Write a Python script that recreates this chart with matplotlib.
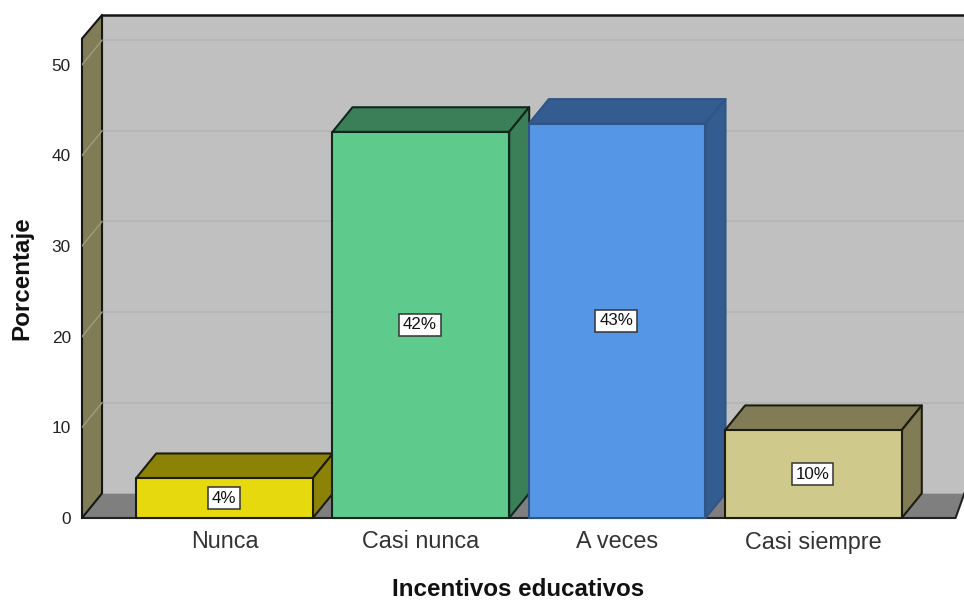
import matplotlib
matplotlib.use("Agg")
import matplotlib.pyplot as plt
from matplotlib.patches import Polygon

plt.rcParams["font.family"] = ["Liberation Sans", "DejaVu Sans"]

# ---------------------------------------------------------------------------
# Datos
# ---------------------------------------------------------------------------
categorias = ["Nunca", "Casi nunca", "A veces", "Casi siempre"]
porcentajes = [4.4, 42.6, 43.5, 9.7]
etiquetas = ["4%", "42%", "43%", "10%"]
ticks_y = [0, 10, 20, 30, 40, 50]

colores_frente = ["#e6d90e", "#5ecb8c", "#5596e6", "#cfc98c"]
colores_lado = ["#8c8205", "#3a7f58", "#335c91", "#817c55"]
colores_borde = ["#1c1c10", "#10281c", "#2f5586", "#1c1c10"]

# Profundidad del falso 3D, en unidades de los ejes
DX = 0.102
DY = 2.72
ANCHO = 0.9
X_MIN, X_MAX = -0.726, 3.767
Y_MAX = 55.5
Y_PARED = 52.9

fig = plt.figure(figsize=(9.64, 6.01), dpi=100)
ax = fig.add_axes([82 / 964, 83 / 601, 882 / 964, 503 / 601])
ax.set_xlim(X_MIN, X_MAX)
ax.set_ylim(0, Y_MAX)
for s in ax.spines.values():
    s.set_visible(False)


def poligono(puntos, color, borde="#161616", lw=1.5, z=1):
    ax.add_patch(Polygon(puntos, closed=True, facecolor=color, edgecolor=borde,
                         linewidth=lw, joinstyle="round", zorder=z,
                         clip_on=False))


# Pared del fondo, pared izquierda y suelo
poligono([(X_MIN + DX, DY), (X_MAX + 0.02, DY), (X_MAX + 0.02, Y_MAX),
          (X_MIN + DX, Y_MAX)], "#c0c0c0", borde="none", z=1)
poligono([(X_MIN, 0), (X_MAX - 0.043, 0), (X_MAX + 0.002, DY), (X_MIN + DX, DY)],
         "#7f7f7f", borde="none", z=2)
ax.plot([X_MIN + DX, X_MAX + 0.02], [Y_MAX, Y_MAX], color="#161616", lw=1.8,
        zorder=3, clip_on=False)
ax.plot([X_MIN, X_MAX - 0.043, X_MAX + 0.002], [0, 0, DY], color="#222222", lw=1.5,
        zorder=3, clip_on=False)
poligono([(X_MIN, 0), (X_MIN + DX, DY), (X_MIN + DX, Y_MAX), (X_MIN, Y_PARED)],
         "#807c55", z=3)

# Rejilla
for t in ticks_y[1:]:
    ax.plot([X_MIN + DX, X_MAX + 0.02], [t + DY, t + DY], color="#b4b4b4", lw=1.3,
            zorder=1.5)
    ax.plot([X_MIN, X_MIN + DX], [t, t + DY], color="#9c9a80", lw=1.1, zorder=3.5)

# Barras
for i, (v, cf, cl, cb) in enumerate(zip(porcentajes, colores_frente,
                                        colores_lado, colores_borde)):
    x0, x1 = i - ANCHO / 2, i + ANCHO / 2
    poligono([(x0, v), (x1, v), (x1 + DX, v + DY), (x0 + DX, v + DY)], cl, cb,
             z=4 + i)
    poligono([(x1, 0), (x1 + DX, DY), (x1 + DX, v + DY), (x1, v)], cl, cb, z=4 + i)
    poligono([(x0, 0), (x1, 0), (x1, v), (x0, v)], cf, cb, z=4.5 + i)
    ax.text(i - 0.005, v / 2, etiquetas[i], ha="center", va="center", fontsize=12.2,
            color="#111111", zorder=10,
            bbox=dict(boxstyle="square,pad=0.22", facecolor="white",
                      edgecolor="#333333", linewidth=1.1))

ax.set_xticks(range(len(categorias)))
ax.set_xticklabels(categorias, fontsize=16.8, color="#333333")
ax.set_yticks(ticks_y)
ax.set_yticklabels([str(t) for t in ticks_y], fontsize=12.4, color="#222222")
ax.tick_params(axis="x", length=0, pad=9)
ax.tick_params(axis="y", length=0, pad=8)

fig.text(518 / 964, 1 - 590 / 601, "Incentivos educativos", ha="center",
         va="center", fontsize=17.4, fontweight="bold", color="#111111")
fig.text(22 / 964, 1 - 278 / 601, "Porcentaje", ha="center", va="center",
         rotation=90, fontsize=17.4, fontweight="bold", color="#111111")

fig.savefig("out.png", dpi=100)
